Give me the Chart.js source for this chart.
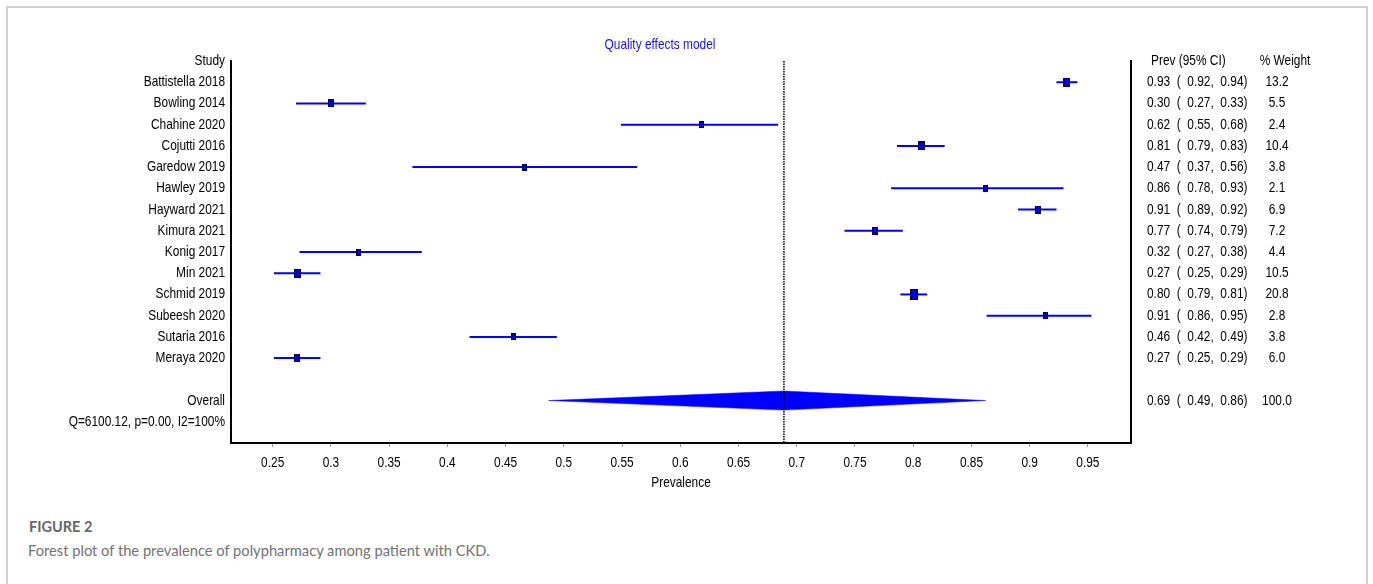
<!doctype html>
<html>

<head>
	<title>Forest plot - polypharmacy in CKD</title>
	<script src="https://cdn.jsdelivr.net/npm/chart.js@4/dist/chart.umd.min.js"></script>
	<style>
		body {
			margin: 0;
			background: #fff;
		}
		#frame {
			position: absolute;
			left: 6px;
			top: 6px;
			width: 1358px;
			height: 640px;
			border: 2px solid #d0d0d0;
		}
		#wrap {
			position: absolute;
			left: 0;
			top: 0;
		}
		.cap1 {
			position: absolute;
			left: 29px;
			top: 518px;
			line-height: 20px;
			font: bold 14.5px Lato, sans-serif;
			color: #666;
		}
		.cap2 {
			position: absolute;
			left: 28px;
			top: 541px;
			line-height: 20px;
			font: 14.7px Lato, sans-serif;
			color: #737373;
		}
	</style>
</head>

<body>
	<div id="frame"></div>
	<div id="wrap">
		<canvas id="canvas" width="1373" height="500"></canvas>
	</div>
	<div class="cap1">FIGURE 2</div>
	<div class="cap2">Forest plot of the prevalence of polypharmacy among patient with CKD.</div>
	<script>
		const studies = ['Battistella 2018', 'Bowling 2014', 'Chahine 2020', 'Cojutti 2016', 'Garedow 2019',
			'Hawley 2019', 'Hayward 2021', 'Kimura 2021', 'Konig 2017', 'Min 2021', 'Schmid 2019',
			'Subeesh 2020', 'Sutaria 2016', 'Meraya 2020'];
		const prev = [0.932, 0.300, 0.618, 0.807, 0.466, 0.862, 0.907, 0.767, 0.324, 0.271, 0.801, 0.914, 0.457, 0.271];
		const lower = [0.923, 0.270, 0.549, 0.786, 0.370, 0.781, 0.890, 0.741, 0.273, 0.251, 0.789, 0.863, 0.419, 0.251];
		const upper = [0.941, 0.330, 0.684, 0.827, 0.563, 0.929, 0.923, 0.791, 0.378, 0.291, 0.812, 0.953, 0.494, 0.291];
		const weight = [13.2, 5.5, 2.4, 10.4, 3.8, 2.1, 6.9, 7.2, 4.4, 10.5, 20.8, 2.8, 3.8, 6.0];

		const overall = { prev: 0.689, lower: 0.487, upper: 0.862, weight: 100.0 };
		const heterogeneity = 'Q=6100.12, p=0.00, I2=100%';
		const xTicks = [0.25, 0.3, 0.35, 0.4, 0.45, 0.5, 0.55, 0.6, 0.65, 0.7, 0.75, 0.8, 0.85, 0.9, 0.95];

		// row 0 is the header, studies follow, one blank row, then overall and heterogeneity
		const rowLabels = ['Study'].concat(studies, ['', 'Overall', heterogeneity]);
		const overallRow = studies.length + 2;

		// no narrow face installed, so text is squeezed to look like Arial Narrow
		const FONT = '14.5px "Liberation Sans", Arial, sans-serif';
		const SQUEEZE = 0.82;
		const BLUE = '#0000ff';

		function narrowText(ctx, text, x, y, align) {
			ctx.save();
			ctx.translate(x, y);
			ctx.scale(SQUEEZE, 1);
			ctx.textAlign = align;
			ctx.fillText(text, 0, 0);
			ctx.restore();
		}

		// box markers, size grows with study weight
		const markers = weight.map(w => {
			const h = Math.round(6.4 + 0.215 * w);
			const wd = Math.round(h * 0.75);
			const c = document.createElement('canvas');
			c.width = wd;
			c.height = h;
			const g = c.getContext('2d');
			g.fillStyle = '#0000e8';
			g.fillRect(0, 0, wd, h);
			g.strokeStyle = '#00003a';
			g.lineWidth = 1;
			g.strokeRect(0.5, 0.5, wd - 1, h - 1);
			return c;
		});

		const ciSets = studies.map((s, i) => ({
			type: 'line',
			data: [{ x: lower[i], y: i + 1 }, { x: upper[i], y: i + 1 }],
			borderColor: BLUE,
			borderWidth: 2,
			pointRadius: 0,
			order: 1
		}));

		const dh = 0.45;
		const diamond = {
			type: 'line',
			data: [
				{ x: overall.lower, y: overallRow },
				{ x: overall.prev, y: overallRow - dh },
				{ x: overall.upper, y: overallRow },
				{ x: overall.prev, y: overallRow + dh },
				{ x: overall.lower, y: overallRow }
			],
			borderColor: BLUE,
			borderWidth: 0.5,
			backgroundColor: BLUE,
			fill: 'shape',
			pointRadius: 0,
			tension: 0,
			order: 3
		};

		const refLine = {
			type: 'line',
			data: [{ x: overall.prev, y: 0 }, { x: overall.prev, y: rowLabels.length }],
			borderColor: '#000',
			borderWidth: 1.5,
			borderDash: [1.5, 1],
			pointRadius: 0,
			order: 2
		};

		const boxes = {
			type: 'scatter',
			data: prev.map((p, i) => ({ x: p, y: i + 1 })),
			pointStyle: ctx => markers[ctx.dataIndex],
			pointRadius: 4,
			order: 0
		};

		// axis labels, right-hand columns and the model title
		const textColumns = {
			id: 'textColumns',
			afterDraw(chart) {
				const { ctx, scales: { x, y }, chartArea } = chart;
				ctx.save();
				ctx.font = FONT;
				ctx.textBaseline = 'middle';
				ctx.fillStyle = '#000';

				rowLabels.forEach((lab, i) => {
					narrowText(ctx, lab, chartArea.left - 6, y.getPixelForValue(i), 'right');
				});
				xTicks.forEach(v => {
					narrowText(ctx, String(v), x.getPixelForValue(v), chartArea.bottom + 20, 'center');
				});
				narrowText(ctx, 'Prevalence', (chartArea.left + chartArea.right) / 2, chartArea.bottom + 40, 'center');

				const f = v => v.toFixed(2);
				const xCi = chartArea.right + 16;
				const xW = chartArea.right + 146;
				narrowText(ctx, 'Prev (95% CI)', xCi + 4, y.getPixelForValue(0), 'left');
				narrowText(ctx, '% Weight', xW + 8, y.getPixelForValue(0), 'center');
				studies.forEach((s, i) => {
					const py = y.getPixelForValue(i + 1);
					narrowText(ctx, f(prev[i]) + '  (  ' + f(lower[i]) + ',  ' + f(upper[i]) + ')', xCi, py, 'left');
					narrowText(ctx, weight[i].toFixed(1), xW, py, 'center');
				});
				const po = y.getPixelForValue(overallRow);
				narrowText(ctx, f(overall.prev) + '  (  ' + f(overall.lower) + ',  ' + f(overall.upper) + ')', xCi, po, 'left');
				narrowText(ctx, overall.weight.toFixed(1), xW, po, 'center');

				ctx.fillStyle = '#1414ff';
				narrowText(ctx, 'Quality effects model', chartArea.left + 429, 45, 'center');
				ctx.restore();
			}
		};

		const config = {
			data: {
				datasets: [boxes, ...ciSets, refLine, diamond]
			},
			options: {
				responsive: false,
				animation: false,
				layout: {
					padding: { top: 61, left: 0, right: 0, bottom: 0 }
				},
				plugins: {
					legend: { display: false },
					tooltip: { enabled: false }
				},
				scales: {
					x: {
						type: 'linear',
						position: 'bottom',
						min: 0.2142,
						max: 0.987,
						afterBuildTicks: scale => {
							scale.ticks = xTicks.map(v => ({ value: v }));
						},
						afterFit: scale => {
							scale.height = 57;
						},
						ticks: { display: false },
						grid: {
							drawOnChartArea: false,
							drawTicks: true,
							tickLength: 4,
							color: '#999'
						},
						border: { color: '#000', width: 2 }
					},
					y: {
						type: 'linear',
						position: 'left',
						reverse: true,
						min: 0,
						max: rowLabels.length,
						afterBuildTicks: scale => {
							scale.ticks = rowLabels.map((_, i) => ({ value: i }));
						},
						afterFit: scale => {
							scale.width = 231;
						},
						ticks: { display: false },
						grid: { display: false, drawTicks: false },
						border: { color: '#000', width: 2 }
					},
					y2: {
						type: 'linear',
						position: 'right',
						reverse: true,
						min: 0,
						max: rowLabels.length,
						afterFit: scale => {
							scale.width = 242;
						},
						ticks: { display: false },
						grid: { display: false, drawTicks: false },
						border: { color: '#000', width: 2 }
					}
				}
			},
			plugins: [textColumns]
		};

		window.onload = function() {
			const ctx = document.getElementById('canvas').getContext('2d');
			window.forest = new Chart(ctx, config);
		};
	</script>
</body>

</html>
